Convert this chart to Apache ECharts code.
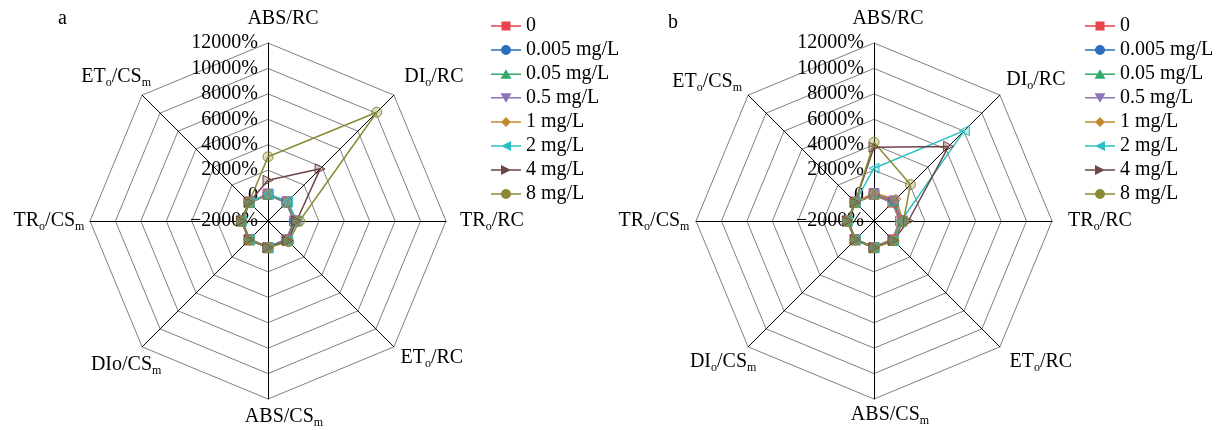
<!DOCTYPE html>
<html>
<head>
<meta charset="utf-8">
<script src="https://cdn.jsdelivr.net/npm/echarts@6/dist/echarts.min.js"></script>
<style>
  html, body { margin: 0; padding: 0; background: #fff; }
  #chart { width: 1221px; height: 430px; }
</style>
</head>
<body>
<div id="chart"></div>
<script>
// axis names, clockwise from the top ({s|..} = subscript)
const axesA = ['ABS/RC', 'DI{s|o}/RC', 'TR{s|o}/RC', 'ET{s|o}/RC', 'ABS/CS{s|m}', 'DIo/CS{s|m}', 'TR{s|o}/CS{s|m}', 'ET{s|o}/CS{s|m}']
const axesB = ['ABS/RC', 'DI{s|o}/RC', 'TR{s|o}/RC', 'ET{s|o}/RC', 'ABS/CS{s|m}', 'DI{s|o}/CS{s|m}', 'TR{s|o}/CS{s|m}', 'ET{s|o}/CS{s|m}']
const names = ['0', '0.005 mg/L', '0.05 mg/L', '0.5 mg/L', '1 mg/L', '2 mg/L', '4 mg/L', '8 mg/L']

// radial scale (%)
const axisMin = -2000
const axisMax = 12000
const axisStep = 2000

// panel a, same axis order as axesA
const a_0 = [100, 100, 100, 100, 100, 100, 100, 100]
const a_0005 = [105, 110, 120, 110, 95, 90, 95, 98]
const a_005 = [110, 130, 150, 120, 92, 88, 90, 95]
const a_05 = [115, 140, 180, 130, 90, 85, 88, 92]
const a_1 = [120, 160, 220, 150, 88, 82, 85, 90]
const a_2 = [130, 180, 260, 180, 85, 80, 82, 88]
const a_4 = [1200, 3800, 250, 200, 90, 85, 80, 90]
const a_8 = [3050, 10100, 480, 300, 95, 90, 85, 95]

// panel b
const b_0 = [100, 100, 100, 100, 100, 100, 100, 100]
const b_0005 = [150, 180, 200, 160, 95, 90, 95, 95]
const b_005 = [140, 200, 220, 170, 92, 88, 92, 95]
const b_05 = [160, 250, 250, 180, 90, 85, 90, 92]
const b_1 = [180, 430, 300, 200, 88, 85, 88, 90]
const b_2 = [2150, 8050, 120, 180, 85, 80, 85, 88]
const b_4 = [3800, 6300, 700, 150, 90, 85, 85, 90]
const b_8 = [4200, 2050, 320, 200, 95, 90, 88, 92]

// axis name placement: [gap along axis, dx, dy] from the end of each axis (px)
const nameOffA = [[24, 15, 0], [0, 40, -18], [0, 46, 0], [0, 38, 11], [0, 16, 18], [0, -16, 18], [0, -41, 0], [0, -26, -18]]
const nameOffB = [[24, 14, 0], [0, 36, -15], [0, 48, 0], [0, 41, 15], [0, 16, 16], [0, -25, 15], [0, -42, 0], [0, -41, -13]]

const colors = ['#E8424A', '#2C6EBB', '#33AA6A', '#8D74BA', '#C08A2E', '#2EBFC2', '#6E4446', '#8A8A35']
const symbols = ['rect', 'circle', 'triangle', 'triangle', 'diamond', 'triangle', 'triangle', 'circle']
const rotates = [0, 0, 0, 180, 0, 90, -90, 0]
// legend icons: line + marker, 30x10
const bar = 'M0,4.25 H30 V5.75 H0 Z '
const icons = [
  'path://' + bar + 'M10.5,0.5 H19.5 V9.5 H10.5 Z',
  'path://' + bar + 'M20,5 A5,5 0 1 1 10,5 A5,5 0 1 1 20,5 Z',
  'path://' + bar + 'M15,0 L20.5,9.5 L9.5,9.5 Z',
  'path://' + bar + 'M9.5,0.5 L20.5,0.5 L15,10 Z',
  'path://' + bar + 'M15,0 L20,5 L15,10 L10,5 Z',
  'path://' + bar + 'M10,5 L20,0 L20,10 Z',
  'path://' + bar + 'M20,5 L10,10 L10,0 Z',
  'path://' + bar + 'M20,5 A5,5 0 1 1 10,5 A5,5 0 1 1 20,5 Z'
]

const serif = 'Liberation Serif'
// echarts lays indicators out counter-clockwise
const order = [0, 7, 6, 5, 4, 3, 2, 1]
const reorder = arr => order.map(i => arr[i])

function alpha(hex, a) {
  const n = parseInt(hex.slice(1), 16)
  return 'rgba(' + (n >> 16) + ',' + ((n >> 8) & 255) + ',' + (n & 255) + ',' + a + ')'
}

// centred text shifted by (dx, dy) through padding
function offPad(dx, dy) {
  return [Math.max(0, 2 * dy), Math.max(0, -2 * dx), Math.max(0, -2 * dy), Math.max(0, 2 * dx)]
}

function makeRadar(axes, offs, center) {
  const offR = reorder(offs)
  return {
    center: center,
    radius: 178,
    startAngle: 90,
    shape: 'polygon',
    splitNumber: (axisMax - axisMin) / axisStep,
    indicator: reorder(axes).map((n, i) => {
      const o = offR[i]
      const ind = {
        name: n, min: axisMin, max: axisMax,
        nameGap: o[0],
        nameTextStyle: { padding: offPad(o[1], o[2]) }
      }
      if (i > 0) ind.axisLabel = { show: false }
      return ind
    }),
    nameGap: 0,
    axisName: {
      color: '#000',
      fontSize: 20,
      fontFamily: serif,
      lineHeight: 24,
      align: 'center',
      verticalAlign: 'middle',
      rich: {
        s: { fontSize: 12, fontFamily: serif, color: '#000', verticalAlign: 'bottom' }
      }
    },
    axisLine: { lineStyle: { color: '#000', width: 1 } },
    splitLine: { lineStyle: { color: '#808080', width: 1 } },
    splitArea: { show: false },
    axisTick: { show: false },
    axisLabel: {
      show: true,
      color: '#000',
      fontSize: 20,
      fontFamily: serif,
      margin: 10,
      formatter: v => (v === 0 ? '0' : String(v).replace('-', '\u2212') + '%')
    }
  }
}

function makeSeries(radarIndex, rows) {
  return rows.map((row, i) => ({
    type: 'radar',
    name: names[i],
    radarIndex: radarIndex,
    symbol: symbols[i],
    symbolRotate: rotates[i],
    symbolSize: 10,
    lineStyle: { color: colors[i], width: 1.5 },
    itemStyle: { color: alpha(colors[i], 0.3), borderColor: colors[i], borderWidth: 1 },
    data: [{ value: reorder(row), name: names[i] }]
  }))
}

function makeLegend(left) {
  return {
    orient: 'vertical',
    left: left,
    top: 11,
    itemWidth: 30,
    itemHeight: 10,
    itemGap: 4,
    textStyle: { color: '#000', fontSize: 20, fontFamily: serif },
    data: names.map((n, i) => ({ name: n, icon: icons[i], itemStyle: { color: colors[i], borderWidth: 0 } }))
  }
}

const chart = echarts.init(document.getElementById('chart'))
chart.setOption({
  backgroundColor: '#fff',
  animation: false,
  title: [
    { text: 'a', left: 53, top: 4, textStyle: { fontSize: 20, fontWeight: 'normal', fontFamily: serif, color: '#000' } },
    { text: 'b', left: 663, top: 8, textStyle: { fontSize: 20, fontWeight: 'normal', fontFamily: serif, color: '#000' } }
  ],
  legend: [makeLegend(486), makeLegend(1080)],
  radar: [makeRadar(axesA, nameOffA, [268, 221]), makeRadar(axesB, nameOffB, [874, 221])],
  series: makeSeries(0, [a_0, a_0005, a_005, a_05, a_1, a_2, a_4, a_8])
    .concat(makeSeries(1, [b_0, b_0005, b_005, b_05, b_1, b_2, b_4, b_8]))
})
</script>
</body>
</html>
